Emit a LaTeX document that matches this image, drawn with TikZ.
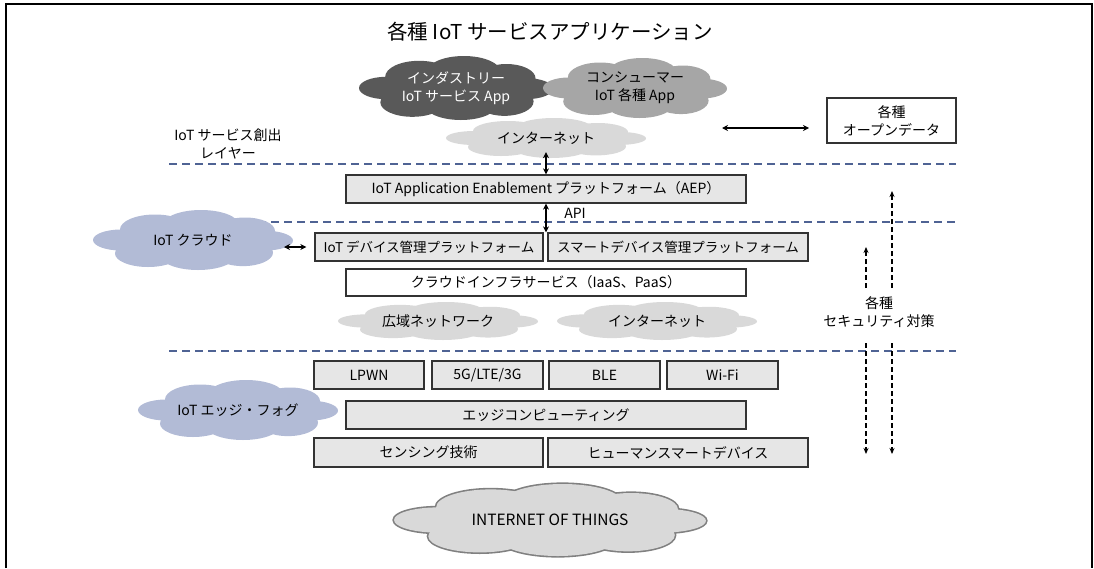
\documentclass[tikz,border=0pt]{standalone}
\usepackage{fontspec}
\setmainfont{Noto Sans CJK JP}
\usetikzlibrary{arrows.meta}
\definecolor{dashblue}{RGB}{79,99,148}
\definecolor{boxgray}{RGB}{230,230,230}
\definecolor{cloudblue}{RGB}{178,187,214}
\definecolor{clouddark}{RGB}{89,89,89}
\definecolor{cloudmid}{RGB}{166,166,166}
\definecolor{cloudlight}{RGB}{217,217,217}
% cloud made of puffs: #1 cx, #2 cy, #3 half width, #4 half height, #5 path style
\newcommand\mycloud[5]{%
  \begin{scope}[shift={(#1,#2)}, xscale=#3, yscale=#4]
    \foreach \u/\v/\rx/\ry in {0/0.05/0.72pt/0.6pt, -0.72/0.0/0.28pt/0.35pt, 0.72/0.02/0.28pt/0.33pt,
        -0.38/-0.35/0.35pt/0.5pt, 0.08/-0.5/0.38pt/0.5pt, 0.52/-0.3/0.3pt/0.45pt,
        -0.45/0.45/0.33pt/0.45pt, 0.05/0.5/0.38pt/0.5pt, 0.5/0.42/0.3pt/0.45pt}
      {\path[#5] (\u,\v) ellipse [x radius=\rx, y radius=\ry];}
  \end{scope}}
\begin{document}
\begin{tikzpicture}[x=1pt,y=-1pt,
  font=\fontsize{14}{18}\selectfont,
  box/.style={draw=black!80, line width=1.3pt, fill=boxgray, inner sep=0pt, align=center},
  wbox/.style={box, fill=white},
  ctext/.style={inner sep=0pt, align=center},
  sep/.style={draw=dashblue, line width=2.6pt, dash pattern=on 8pt off 5pt},
  dbl/.style={line width=1.6pt, {Stealth[length=6pt,width=6pt]}-{Stealth[length=6pt,width=6pt]}},
  sec/.style={line width=1.4pt, dash pattern=on 5pt off 3pt, -{Stealth[length=6pt,width=5pt]}}
]
\useasboundingbox (0,0) rectangle (1094,568);
% frame
\draw[line width=1.8pt] (6,568) -- (6,4) -- (1092,4) -- (1092,568);

% title
\node[font=\fontsize{20.5}{24}\selectfont] (title) at (550,32) {各種 IoT サービスアプリケーション};

% top clouds
\mycloud{456}{88}{97}{32}{fill=clouddark}
\node[ctext, text=white, minimum width=194pt, minimum height=64pt] (ind) at (456,88) {インダストリー\\IoT サービス App};
\mycloud{635}{88}{92}{30}{fill=cloudmid}
\node[ctext, minimum width=184pt, minimum height=60pt] (con) at (635,88) {コンシューマー\\IoT 各種 App};
\mycloud{546}{138}{100}{20}{fill=cloudlight}
\node[ctext, minimum width=200pt, minimum height=40pt] (inet1) at (546,138) {インターネット};

\node[align=center] (layer) at (228,144) {IoT サービス創出\\レイヤー};

\node[wbox, minimum width=129pt, minimum height=45pt] (open) at (891.5,120.5) {各種\\オープンデータ};
\coordinate (oa) at (722,128);
\coordinate (ob) at (809,128);
\draw[dbl] (oa) -- (ob);

% separators
\draw[sep] (169,164) -- (956,164);
\draw[sep] (258,222) -- (956,222);
\draw[sep] (169,351) -- (956,351);

% AEP
\node[box, minimum width=400pt, minimum height=28pt] (aep) at (546,189) {IoT Application Enablement プラットフォーム（AEP）};
\draw[dbl] ([yshift=6pt]inet1.south) -- (aep.north);

% cloud layer
\mycloud{193}{240}{100}{30}{fill=cloudblue}
\node[ctext, minimum width=200pt, minimum height=60pt] (iotc) at (193,240) {IoT クラウド};
\node[box, minimum width=228pt, minimum height=28pt, font=\fontsize{13.5}{18}\selectfont] (dev) at (429,247) {IoT デバイス管理プラットフォーム};
\node[box, minimum width=260pt, minimum height=28pt, font=\fontsize{13.5}{18}\selectfont] (smart) at (678,247) {スマートデバイス管理プラットフォーム};
\draw[dbl] (aep.south) -- (aep.south |- dev.north);
\node (api) at (575,213) {API};
\coordinate (ca) at (284,247);
\draw[dbl] (ca) -- ([xshift=-8pt]dev.west);

\node[wbox, minimum width=400pt, minimum height=27pt] (infra) at (546,282.5) {クラウドインフラサービス（IaaS、PaaS）};
\mycloud{438}{321}{100}{19}{fill=cloudlight}
\node[ctext, minimum width=200pt, minimum height=38pt] (wan) at (438,321) {広域ネットワーク};
\mycloud{657}{321}{100}{19}{fill=cloudlight}
\node[ctext, minimum width=200pt, minimum height=38pt] (inet2) at (657,321) {インターネット};

% security
\node[align=center] (secl) at (879,312) {各種\\セキュリティ対策};
\coordinate (s1a) at (866,288);
\coordinate (s1b) at (866,247);
\coordinate (s2a) at (892,288);
\coordinate (s2b) at (892,191);
\coordinate (s3a) at (866,343);
\coordinate (s3b) at (866,454);
\coordinate (s4a) at (892,343);
\coordinate (s4b) at (892,454);
\draw[sec] (s1a) -- (s1b);
\draw[sec] (s2a) -- (s2b);
\draw[sec] (s3a) -- (s3b);
\draw[sec] (s4a) -- (s4b);

% edge layer
\node[box, minimum width=110pt, minimum height=28pt] (lpwn) at (369,375) {LPWN};
\node[box, minimum width=111pt, minimum height=28pt] (g5) at (487.5,375) {5G/LTE/3G};
\node[box, minimum width=111pt, minimum height=28pt] (ble) at (604.5,375) {BLE};
\node[box, minimum width=111pt, minimum height=28pt] (wifi) at (722.5,375) {Wi-Fi};
\mycloud{238}{410}{100}{30}{fill=cloudblue}
\node[ctext, minimum width=200pt, minimum height=60pt] (edge) at (238,410) {IoT エッジ・フォグ};
\node[box, minimum width=400pt, minimum height=28pt] (edgec) at (546,415) {エッジコンピューティング};
\node[box, minimum width=229pt, minimum height=29pt] (sens) at (428.5,452.5) {センシング技術};
\node[box, minimum width=260pt, minimum height=29pt] (human) at (678,452.5) {ヒューマンスマートデバイス};

% IoT cloud
\mycloud{550}{520}{156}{36}{draw=black!50, line width=3.2pt}
\mycloud{550}{520}{156}{36}{fill=cloudlight}
\node[ctext, minimum width=312pt, minimum height=72pt, font=\fontsize{15.5}{18}\selectfont] (iot) at (550,520) {INTERNET OF THINGS};
\end{tikzpicture}
\end{document}
